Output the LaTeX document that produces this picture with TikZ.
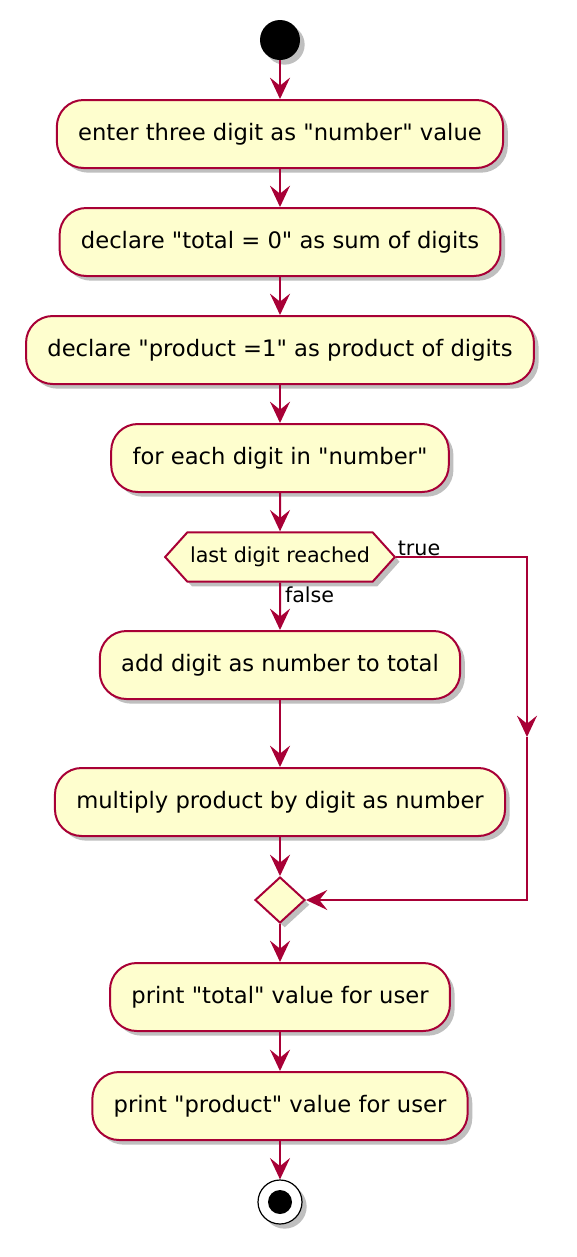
\documentclass[tikz,border=0pt]{standalone}
\usepackage{fontspec}
\setmainfont{DejaVu Sans}[Ligatures=TeXOff]
\usepackage{tikz}
\usetikzlibrary{shapes.geometric,shapes.symbols,shadows,arrows.meta}
\definecolor{umlfill}{HTML}{FEFECE}
\definecolor{umlline}{HTML}{A80036}
\tikzset{
  baseline = (current bounding box.center),
}

\begin{document}
\begin{tikzpicture}[
    x=0.75pt, y=-0.75pt,
    dropsh/.style={drop shadow={shadow xshift=3.5pt,shadow yshift=-3.5pt,opacity=0.25,fill=black}},
    action/.style={draw=umlline,fill=umlfill,line width=1.5pt,rounded corners=20pt,
      minimum height=51pt,inner xsep=16pt,font=\fontsize{17}{20}\selectfont,dropsh},
    cond/.style={shape=signal,signal to=west and east,signal pointer angle=96,
      draw=umlline,fill=umlfill,line width=1.5pt,minimum height=37pt,inner xsep=2pt,
      font=\fontsize{15.5}{18}\selectfont,dropsh},
    merge/.style={diamond,draw=umlline,fill=umlfill,line width=1.5pt,inner sep=0pt,
      minimum width=37.5pt,minimum height=34.5pt,dropsh},
    guard/.style={font=\fontsize{15.5}{18}\selectfont,inner sep=1pt},
    flow/.style={draw=umlline,line width=1.5pt,-{Stealth[length=16pt,width=15pt,inset=6pt]}}
    ]
    \useasboundingbox (0,0) rectangle (577,1257);
    \node (start) [circle,fill=black,minimum size=30pt,inner sep=0pt,dropsh] at (280,40) {};
    \node (enter) [action] at (280,134) {enter three digit as "number" value};
    \node (total) [action] at (280,242) {declare "total = 0" as sum of digits};
    \node (prod) [action] at (280,350) {declare "product =1" as product of digits};
    \node (each) [action] at (280,458) {for each digit in "number"};
    \node (last) [cond] at (280,557) {last digit reached};
    \node (add) [action] at (280,665) {add digit as number to total};
    \node (mult) [action] at (280,802) {multiply product by digit as number};
    \node (join) [merge] at (280,900) {};
    \node (ptotal) [action] at (280,997) {print "total" value for user};
    \node (pprod) [action] at (280,1106) {print "product" value for user};
    \node (stop) [circle,draw=black,fill=white,line width=0.9pt,minimum size=33pt,inner sep=0pt,dropsh] at (280,1202) {};
    \node (stopdot) [circle,fill=black,minimum size=18pt,inner sep=0pt] at (stop) {};
    \coordinate (bend) at (527,737);

    \draw[flow] (start) -- (enter);
    \draw[flow] (enter) -- (total);
    \draw[flow] (total) -- (prod);
    \draw[flow] (prod) -- (each);
    \draw[flow] (each) -- (last);
    \draw[flow] (last) -- (add) node[guard,pos=0.25,right=2pt] {false};
    \draw[flow] (add) -- (mult);
    \draw[flow] (mult) -- (join);
    \draw[flow] (last.east) -| (bend);
    \draw[flow] (bend) |- (join.east);
    \node (truelbl) [guard,anchor=south west] at (last.east) {true};
    \draw[flow] (join) -- (ptotal);
    \draw[flow] (ptotal) -- (pprod);
    \draw[flow] (pprod) -- (stop);
  \end{tikzpicture}
\end{document}
